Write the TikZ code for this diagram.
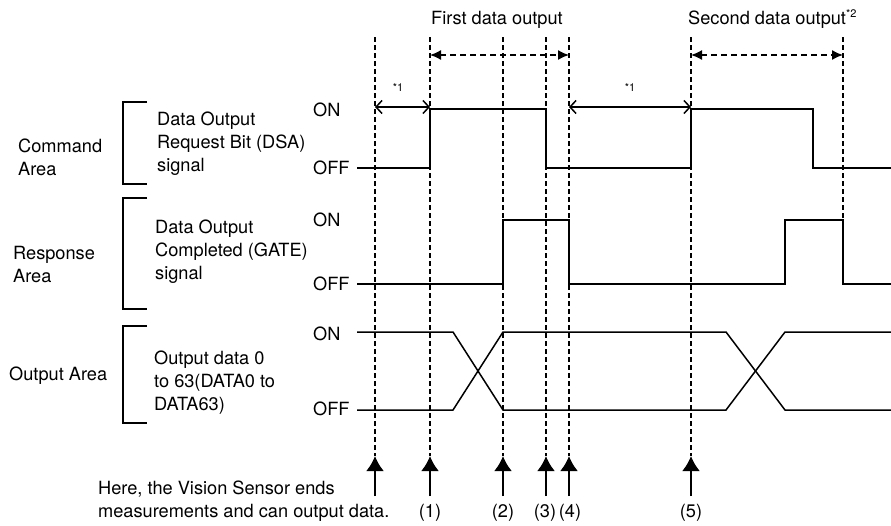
\documentclass[tikz,border=0pt]{standalone}
\usepackage{fontspec}
\setmainfont{TeX Gyre Heros}
\usetikzlibrary{arrows.meta}
\begin{document}
\begin{tikzpicture}[x=1pt,y=-1pt,
  txt/.style={font=\fontsize{18.2}{23}\selectfont, inner sep=0pt},
  lbl/.style={txt, align=left, anchor=west},
  small/.style={font=\fontsize{11}{13}\selectfont, inner sep=0pt},
  sig/.style={line width=1.5pt},
  guide/.style={line width=1.3pt, dash pattern=on 5pt off 3pt},
  brk/.style={line width=2.2pt},
  spanarrow/.style={line width=1.5pt, dash pattern=on 6pt off 4pt, {Latex[length=11pt,width=10pt]}-{Latex[length=11pt,width=10pt]}},
  gaparrow/.style={line width=1.5pt, {Straight Barb[length=6pt,width=13pt]}-{Straight Barb[length=6pt,width=13pt]}},
  uparrow/.style={line width=2.4pt, -{Latex[length=15pt,width=18pt]}}
]
\useasboundingbox (0,0) rectangle (891,525);

% guide positions
\foreach \n/\x in {0/375,1/430,2/503,3/546,4/569,5/691,6/843}{
  \coordinate (t\n) at (\x,37);
  \coordinate (b\n) at (\x,456);
  \coordinate (s\n) at (\x,496);
}
\coordinate (b6) at (843,220);

% dashed guides
\foreach \n in {0,...,6}{ \draw[guide] (t\n) -- (b\n); }

% bottom arrows
\foreach \n in {0,...,5}{ \draw[uparrow] (s\n) -- (b\n); }

% top texts
\node[txt] (first) at (497,20) {First data output};
\node[txt, anchor=west] (second) at (688,19) {Second data output\textsuperscript{\fontsize{11}{13}\selectfont *2}};

% span arrows
\coordinate (f1) at (430,55); \coordinate (f2) at (569,55);
\coordinate (g1) at (691,55); \coordinate (g2) at (843,55);
\draw[spanarrow] (f1) -- (f2);
\draw[spanarrow] (g1) -- (g2);

% *1 arrows
\coordinate (h1) at (375,107); \coordinate (h2) at (430,107);
\coordinate (h3) at (569,107); \coordinate (h4) at (691,107);
\draw[gaparrow] (h1) -- (h2);
\draw[gaparrow] (h3) -- (h4);
\node[small] (n1a) at (398,87) {*1};
\node[small] (n1b) at (630,87) {*1};

% area labels
\node[lbl] (cmd) at (18,157) {Command\\Area};
\node[lbl] (rsp) at (13,264) {Response\\Area};
\node[lbl] (out) at (9,376) {Output Area};

% brackets
\draw[brk] (147,102) -- (123,102) -- (123,184) -- (147,184);
\draw[brk] (147,198) -- (123,198) -- (123,309) -- (147,309);
\draw[brk] (147,326) -- (123,326) -- (123,423) -- (147,423);

% signal labels
\node[lbl] (dsa) at (157,144) {Data Output\\Request Bit (DSA)\\signal};
\node[lbl] (gate) at (155,252) {Data Output\\Completed (GATE)\\signal};
\node[lbl] (data) at (154,383) {Output data 0\\to 63(DATA0 to\\DATA63)};

% ON / OFF
\node[lbl] (on1) at (313,110) {ON};
\node[lbl] (off1) at (313,168) {OFF};
\node[lbl] (on2) at (313,220) {ON};
\node[lbl] (off2) at (313,284) {OFF};
\node[lbl] (on3) at (313,334) {ON};
\node[lbl] (off3) at (313,409) {OFF};

% command signal
\draw[sig] (357,168) -- (430,168) -- (430,109) -- (546,109) -- (546,168) -- (691,168) -- (691,109) -- (813,109) -- (813,168) -- (891,168);
% response signal
\draw[sig] (357,284) -- (503,284) -- (503,220) -- (569,220) -- (569,284) -- (785,284) -- (785,220) -- (843,220) -- (843,284) -- (891,284);
% output data
\draw[sig] (357,332) -- (453,332) -- (503,410) -- (726,410) -- (785,332) -- (891,332);
\draw[sig] (357,410) -- (453,410) -- (503,332) -- (726,332) -- (785,410) -- (891,410);

% bottom texts
\node[lbl] (here) at (98,501) {Here, the Vision Sensor ends\\measurements and can output data.};
\node[txt] (l1) at (430,513) {(1)};
\node[txt] (l2) at (503,513) {(2)};
\node[txt] (l3) at (545,513) {(3)};
\node[txt] (l4) at (570,513) {(4)};
\node[txt] (l5) at (691,513) {(5)};
\end{tikzpicture}
\end{document}
